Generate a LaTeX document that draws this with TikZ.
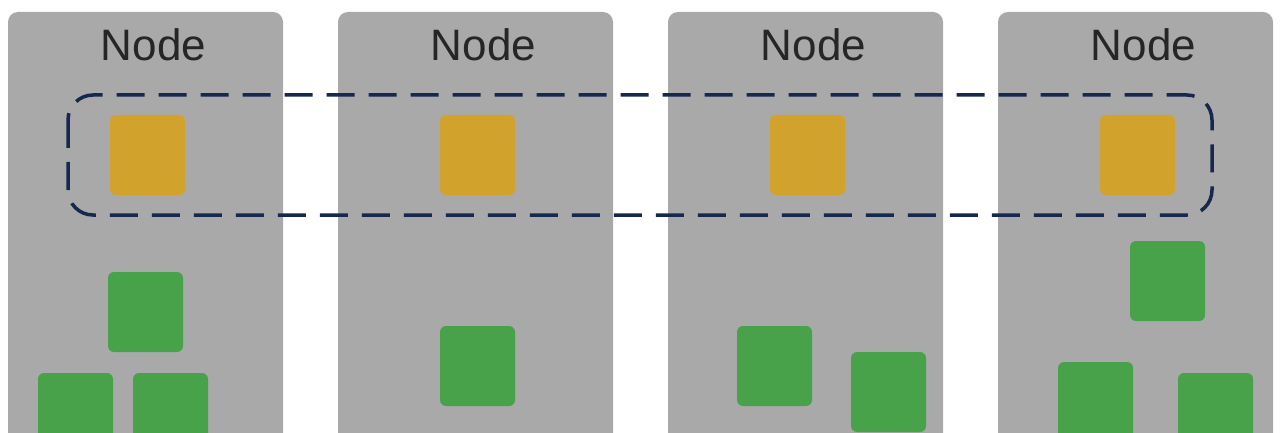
\documentclass[tikz,border=0pt]{standalone}
\usepackage{fontspec}
\setmainfont{Liberation Sans}
\begin{document}
\begin{tikzpicture}[x=1pt,y=-1pt,
  panel/.style={fill=panelgray,draw=none,rounded corners=10pt},
  ylw/.style={fill=ylwc,draw=none,rounded corners=6pt},
  grn/.style={fill=grnc,draw=none,rounded corners=6pt},
  lbl/.style={font=\fontsize{44}{48}\selectfont,text=black!85}]
\definecolor{panelgray}{HTML}{A9A9A9}
\definecolor{ylwc}{HTML}{D2A32C}
\definecolor{grnc}{HTML}{47A24A}
\definecolor{navy}{HTML}{17284F}
\useasboundingbox (0,0) rectangle (1280,433);
\clip (0,0) rectangle (1280,433);
\fill[white] (0,0) rectangle (1280,433);
\foreach \x/\n in {8/p1,338/p2,668/p3,998/p4}{
  \fill[panel] (\x,12) rectangle ++(275,440);
  \node[lbl] (\n) at (\x+145.5,45) {Node};
}
\foreach \x/\n in {110/y1,440/y2,770/y3,1100/y4}{
  \fill[ylw] (\x,115) rectangle ++(75,80);
  \coordinate (\n) at (\x+37.5,155);
}
\draw[navy,line width=3.5pt,dash pattern=on 28pt off 14pt,rounded corners=25pt]
  (68,95) rectangle (1212,215);
\foreach \x/\y in {108/272,38/373,133/373,440/326,737/326,851/352,1130/241,1058/362,1178/373}{
  \fill[grn] (\x,\y) rectangle ++(75,80);
}
\end{tikzpicture}
\end{document}
